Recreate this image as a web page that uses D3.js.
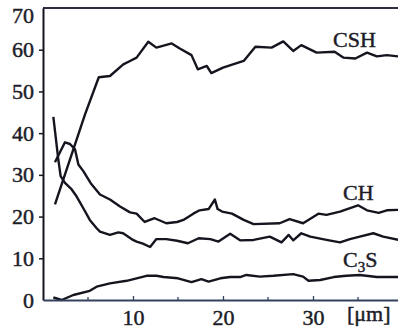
<!DOCTYPE html>
<html>
<head>
<meta charset="utf-8">
<script src="https://cdn.jsdelivr.net/npm/d3@7"></script>
<style>
  body { margin: 0; background: #fff; }
  text { font-family: 'Liberation Serif', 'Times New Roman', serif; fill: #1c1c28; stroke: #1c1c28; stroke-width: 0.45px; }
</style>
</head>
<body>
<div id="chart"></div>
<script>
// series: [x in µm, value]
const csh = [[1.33,22.9],[4.67,44.5],[6.2,53.4],[7.44,53.7],[8.92,56.5],[9.67,57.3],[10.4,58.1],[11.7,61.9],[12.6,60.5],[14.3,61.5],[15.2,60.3],[16.5,58.7],[17.2,55.3],[18.2,56.1],[18.7,54.4],[20.0,55.7],[22.3,57.3],[23.6,60.7],[25.4,60.5],[26.7,62],[27.8,59.7],[28.7,61.1],[30.4,59.3],[32.4,59.5],[33.4,58.1],[34.7,57.9],[36,59.3],[37.1,58.4],[38.2,58.7],[39.5,58.4]];
const ch = [[1.33,33],[1.9,35.5],[2.44,37.8],[3,37.4],[3.56,36.1],[3.93,32.5],[4.48,30.9],[5.3,28],[6.33,25.3],[7.44,24.1],[8.56,22.4],[9.67,21],[10.4,20.7],[11.3,18.7],[12.4,19.6],[13.7,18.4],[14.9,18.7],[15.6,19.2],[16.7,20.7],[17.4,21.5],[18.4,21.8],[19.1,24.1],[19.4,21.8],[19.9,21.2],[21,20.7],[22.3,19.2],[23.4,18.2],[26.3,18.4],[27.4,19.4],[28.9,18.4],[30.6,20.7],[31.5,20.4],[33,21.2],[35,22.7],[36,21.5],[37.3,20.9],[38.2,21.5],[39.5,21.6]];
const other = [[1.15,43.9],[1.7,33.7],[1.96,29.7],[2.44,28.1],[3.19,26.5],[3.74,24.8],[4.48,22],[5.2,19.2],[5.96,17.2],[6.33,16.4],[7.44,15.6],[8.37,16.2],[8.9,16],[10,14.4],[10.4,14],[11.1,13.5],[11.9,12.7],[12.6,14.6],[13.7,14.6],[14.9,14.2],[16.1,13.6],[17.3,14.8],[18.6,14.6],[19.5,14],[20.8,15.9],[21.9,14.3],[23.4,14.4],[25.2,15.2],[26.5,13.8],[27.3,15.6],[27.8,14.3],[28.7,16],[29.7,15.2],[31.5,14.4],[33,13.8],[34.1,14.6],[35.2,15.2],[36.7,16],[37.8,15.2],[39.5,14.4]];
const c3s = [[1.15,0.6],[2.07,0],[3.37,1.2],[5.2,2.2],[5.96,3.2],[7.44,4],[9.3,4.6],[10.4,5.2],[11.5,5.8],[12.6,5.8],[13.4,5.5],[15,5.2],[16.5,4.3],[17.6,5],[18.4,4.4],[19.7,5.2],[20.8,5.5],[21.9,5.5],[22.6,6],[24.1,5.6],[25.6,5.8],[27.8,6.2],[28.9,5.6],[29.5,4.6],[30.8,4.8],[32.3,5.5],[33.7,5.8],[35.2,6],[37.1,5.5],[39.5,5.5]];

const yTicks = [0, 10, 20, 30, 40, 50, 60, 70];
const xMajor = [10, 20, 30];
const xMinor = [5, 15, 25, 35];

const width = 398, height = 332;
const margin = { top: 8, right: 0, bottom: 32, left: 43 };

const svg = d3.select('#chart').append('svg')
  .attr('width', width)
  .attr('height', height);

const x = d3.scaleLinear().domain([0, 39.5]).range([margin.left, width - margin.right + 0.5]);
const y = d3.scaleLinear().domain([0, 70]).range([height - margin.bottom, margin.top]);

svg.append('clipPath').attr('id', 'clip')
  .append('rect')
  .attr('x', margin.left).attr('y', margin.top)
  .attr('width', width - margin.left).attr('height', height - margin.bottom - margin.top + 2);

const line = d3.line().x((d) => x(d[0])).y((d) => y(d[1]));

const plot = svg.append('g').attr('clip-path', 'url(#clip)');
[csh, ch, other, c3s].forEach((s) => {
  plot.append('path')
    .datum(s)
    .attr('d', line)
    .attr('fill', 'none')
    .attr('stroke', '#15151f')
    .attr('stroke-width', 2.4)
    .attr('stroke-linejoin', 'round');
});

// top frame
svg.append('line')
  .attr('x1', margin.left).attr('x2', width)
  .attr('y1', y(70)).attr('y2', y(70))
  .attr('stroke', '#2a2e40').attr('stroke-width', 2);

// y axis
const yAxis = svg.append('g')
  .attr('transform', `translate(${margin.left},0)`)
  .call(d3.axisLeft(y).tickValues(yTicks).tickSize(4).tickSizeOuter(0));
yAxis.select('.domain').attr('stroke', '#15151f').attr('stroke-width', 2);
yAxis.selectAll('.tick line').attr('stroke', '#15151f').attr('stroke-width', 1.5);
yAxis.selectAll('.tick').filter((d) => d === 0 || d === 70).select('line').remove();
yAxis.selectAll('text')
  .attr('x', -9)
  .attr('dy', (d) => (d === 70 ? '0.65em' : '0.32em'))
  .style('font-size', '22px')
  .attr('fill', '#1c1c28');

// x axis
const xAxis = svg.append('g')
  .attr('transform', `translate(0,${y(0)})`)
  .call(d3.axisBottom(x).tickValues(xMajor).tickSize(-4).tickSizeOuter(0).tickFormat(d3.format('d')));
xAxis.select('.domain').attr('stroke', '#33405e').attr('stroke-width', 2);
xAxis.selectAll('.tick line').attr('stroke', '#33405e').attr('stroke-width', 1.3);
xAxis.selectAll('text')
  .attr('y', 9)
  .style('font-size', '22px')
  .attr('fill', '#1c1c28');

xAxis.selectAll('.minor')
  .data(xMinor)
  .enter()
  .append('line')
  .attr('x1', (d) => x(d)).attr('x2', (d) => x(d))
  .attr('y1', 0).attr('y2', -3)
  .attr('stroke', '#33405e').attr('stroke-width', 1.3);

svg.append('text')
  .attr('x', 347).attr('y', 321)
  .style('font-size', '22px')
  .text('[μm]');

// series labels
svg.append('text').attr('x', 333).attr('y', 47).style('font-size', '22px').text('CSH');
svg.append('text').attr('x', 343).attr('y', 200).style('font-size', '22px').text('CH');
const c3sLabel = svg.append('text').attr('x', 343).attr('y', 267).style('font-size', '22px');
c3sLabel.append('tspan').text('C');
c3sLabel.append('tspan').attr('dy', 5).style('font-size', '15px').text('3');
c3sLabel.append('tspan').attr('dy', -5).text('S');
</script>
</body>
</html>
